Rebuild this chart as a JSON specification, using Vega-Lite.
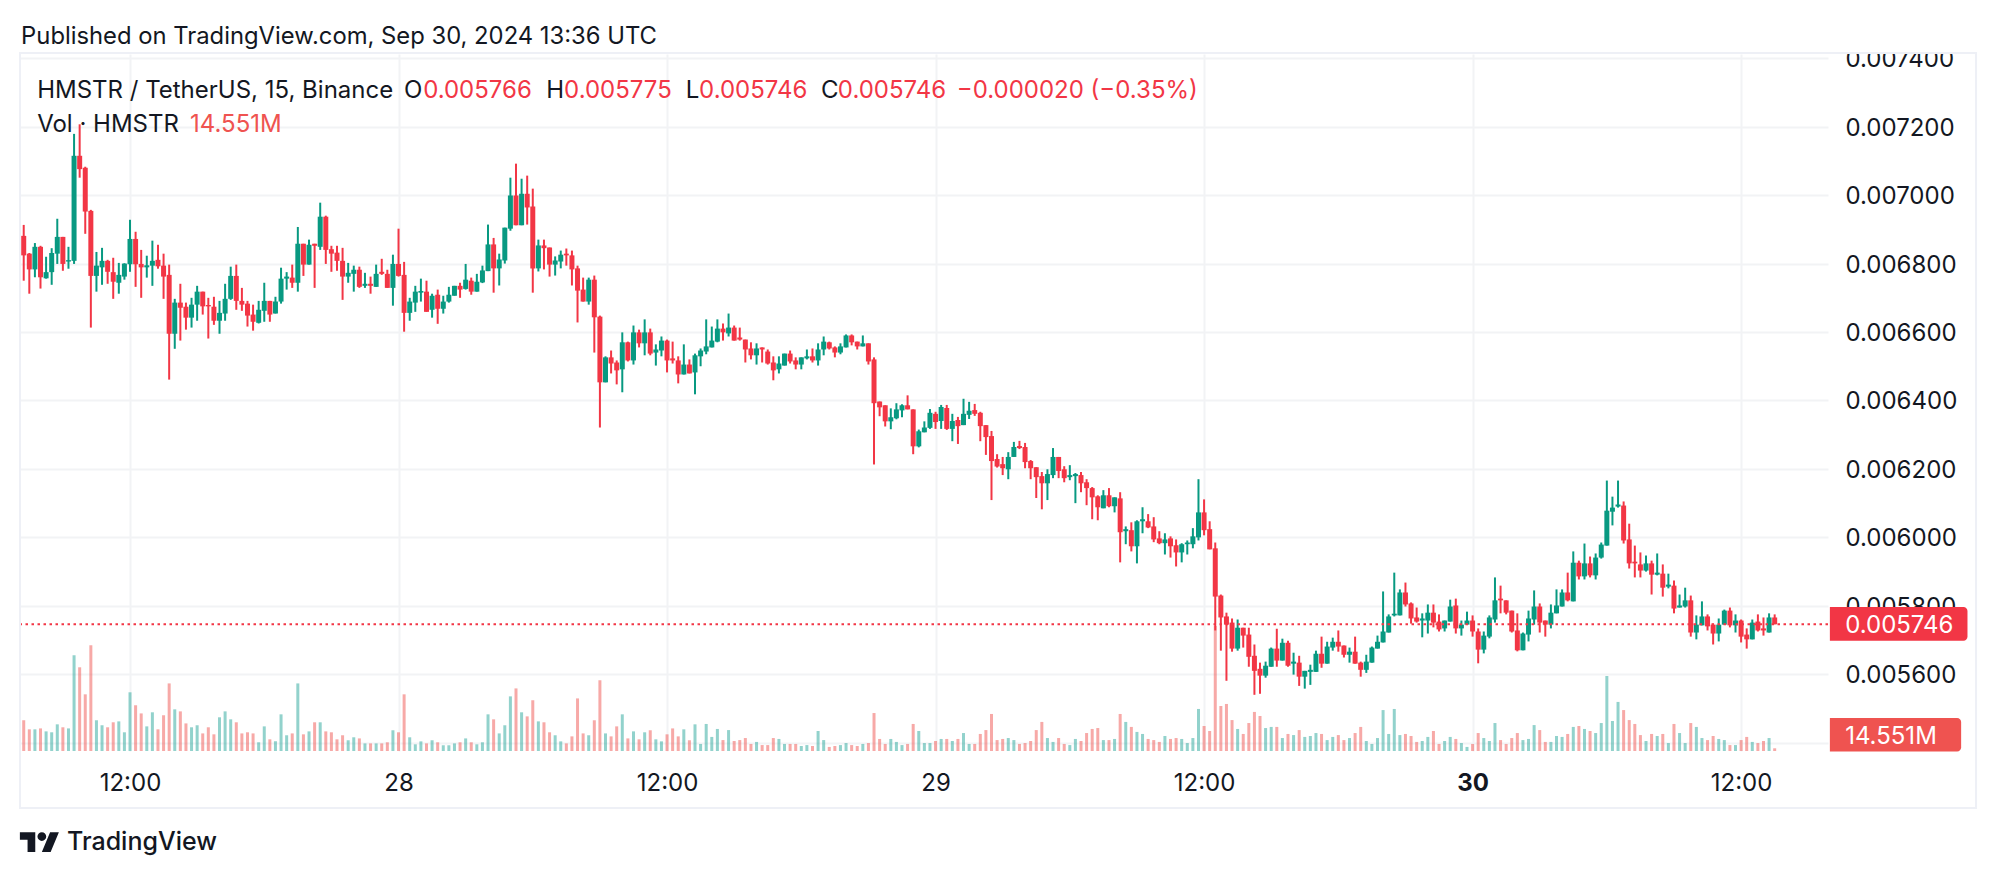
{
"$schema":"https://vega.github.io/schema/vega-lite/v6.json",
"width":1808,"height":697,
"autosize":{"type":"none"},
"padding":{"left":20,"top":54,"right":168,"bottom":127},
"background":"white",
"config":{"view":{"stroke":null},"text":{"font":"Inter"}},
"data":{"values":[
{"t":"2024-09-27T07:15Z","o":0.006881,"h":0.006913,"l":0.006750,"c":0.006824,"v":166},
{"t":"2024-09-27T07:30Z","o":0.006829,"h":0.006831,"l":0.006712,"c":0.006783,"v":117},
{"t":"2024-09-27T07:45Z","o":0.006783,"h":0.006860,"l":0.006760,"c":0.006849,"v":117},
{"t":"2024-09-27T08:00Z","o":0.006849,"h":0.006852,"l":0.006727,"c":0.006760,"v":122},
{"t":"2024-09-27T08:15Z","o":0.006757,"h":0.006820,"l":0.006756,"c":0.006775,"v":106},
{"t":"2024-09-27T08:30Z","o":0.006775,"h":0.006845,"l":0.006738,"c":0.006831,"v":101},
{"t":"2024-09-27T08:45Z","o":0.006829,"h":0.006931,"l":0.006799,"c":0.006878,"v":144},
{"t":"2024-09-27T09:00Z","o":0.006878,"h":0.006878,"l":0.006779,"c":0.006799,"v":128},
{"t":"2024-09-27T09:15Z","o":0.006806,"h":0.006849,"l":0.006785,"c":0.006810,"v":122},
{"t":"2024-09-27T09:30Z","o":0.006808,"h":0.007179,"l":0.006799,"c":0.007115,"v":517},
{"t":"2024-09-27T09:45Z","o":0.007115,"h":0.007207,"l":0.007051,"c":0.007076,"v":452},
{"t":"2024-09-27T10:00Z","o":0.007080,"h":0.007083,"l":0.006887,"c":0.006952,"v":306},
{"t":"2024-09-27T10:15Z","o":0.006954,"h":0.006957,"l":0.006613,"c":0.006764,"v":571},
{"t":"2024-09-27T10:30Z","o":0.006764,"h":0.006834,"l":0.006718,"c":0.006794,"v":166},
{"t":"2024-09-27T10:45Z","o":0.006789,"h":0.006846,"l":0.006738,"c":0.006808,"v":139},
{"t":"2024-09-27T11:00Z","o":0.006808,"h":0.006811,"l":0.006741,"c":0.006776,"v":128},
{"t":"2024-09-27T11:15Z","o":0.006775,"h":0.006817,"l":0.006697,"c":0.006747,"v":155},
{"t":"2024-09-27T11:30Z","o":0.006744,"h":0.006802,"l":0.006712,"c":0.006767,"v":160},
{"t":"2024-09-27T11:45Z","o":0.006762,"h":0.006801,"l":0.006753,"c":0.006800,"v":101},
{"t":"2024-09-27T12:00Z","o":0.006798,"h":0.006928,"l":0.006776,"c":0.006872,"v":317},
{"t":"2024-09-27T12:15Z","o":0.006872,"h":0.006893,"l":0.006732,"c":0.006798,"v":247},
{"t":"2024-09-27T12:30Z","o":0.006799,"h":0.006840,"l":0.006700,"c":0.006789,"v":203},
{"t":"2024-09-27T12:45Z","o":0.006789,"h":0.006823,"l":0.006759,"c":0.006795,"v":133},
{"t":"2024-09-27T13:00Z","o":0.006794,"h":0.006867,"l":0.006735,"c":0.006808,"v":209},
{"t":"2024-09-27T13:15Z","o":0.006811,"h":0.006855,"l":0.006785,"c":0.006792,"v":117},
{"t":"2024-09-27T13:30Z","o":0.006794,"h":0.006829,"l":0.006697,"c":0.006762,"v":193},
{"t":"2024-09-27T13:45Z","o":0.006767,"h":0.006797,"l":0.006461,"c":0.006595,"v":365},
{"t":"2024-09-27T14:00Z","o":0.006595,"h":0.006697,"l":0.006551,"c":0.006686,"v":225},
{"t":"2024-09-27T14:15Z","o":0.006686,"h":0.006741,"l":0.006575,"c":0.006671,"v":214},
{"t":"2024-09-27T14:30Z","o":0.006674,"h":0.006686,"l":0.006607,"c":0.006642,"v":149},
{"t":"2024-09-27T14:45Z","o":0.006642,"h":0.006700,"l":0.006613,"c":0.006680,"v":128},
{"t":"2024-09-27T15:00Z","o":0.006680,"h":0.006735,"l":0.006633,"c":0.006718,"v":139},
{"t":"2024-09-27T15:15Z","o":0.006718,"h":0.006718,"l":0.006651,"c":0.006675,"v":95},
{"t":"2024-09-27T15:30Z","o":0.006679,"h":0.006700,"l":0.006581,"c":0.006675,"v":128},
{"t":"2024-09-27T15:45Z","o":0.006674,"h":0.006703,"l":0.006621,"c":0.006633,"v":90},
{"t":"2024-09-27T16:00Z","o":0.006633,"h":0.006691,"l":0.006595,"c":0.006656,"v":182},
{"t":"2024-09-27T16:15Z","o":0.006654,"h":0.006741,"l":0.006633,"c":0.006697,"v":214},
{"t":"2024-09-27T16:30Z","o":0.006697,"h":0.006791,"l":0.006694,"c":0.006764,"v":171},
{"t":"2024-09-27T16:45Z","o":0.006764,"h":0.006797,"l":0.006665,"c":0.006691,"v":155},
{"t":"2024-09-27T17:00Z","o":0.006691,"h":0.006729,"l":0.006662,"c":0.006680,"v":95},
{"t":"2024-09-27T17:15Z","o":0.006683,"h":0.006691,"l":0.006616,"c":0.006648,"v":101},
{"t":"2024-09-27T17:30Z","o":0.006651,"h":0.006680,"l":0.006604,"c":0.006630,"v":95},
{"t":"2024-09-27T17:45Z","o":0.006627,"h":0.006691,"l":0.006625,"c":0.006665,"v":47},
{"t":"2024-09-27T18:00Z","o":0.006662,"h":0.006744,"l":0.006630,"c":0.006691,"v":133},
{"t":"2024-09-27T18:15Z","o":0.006691,"h":0.006691,"l":0.006630,"c":0.006651,"v":63},
{"t":"2024-09-27T18:30Z","o":0.006654,"h":0.006703,"l":0.006654,"c":0.006689,"v":52},
{"t":"2024-09-27T18:45Z","o":0.006689,"h":0.006788,"l":0.006683,"c":0.006756,"v":198},
{"t":"2024-09-27T19:00Z","o":0.006756,"h":0.006775,"l":0.006724,"c":0.006762,"v":85},
{"t":"2024-09-27T19:15Z","o":0.006759,"h":0.006797,"l":0.006729,"c":0.006744,"v":95},
{"t":"2024-09-27T19:30Z","o":0.006744,"h":0.006907,"l":0.006718,"c":0.006858,"v":365},
{"t":"2024-09-27T19:45Z","o":0.006858,"h":0.006858,"l":0.006764,"c":0.006797,"v":90},
{"t":"2024-09-27T20:00Z","o":0.006797,"h":0.006870,"l":0.006797,"c":0.006855,"v":106},
{"t":"2024-09-27T20:15Z","o":0.006858,"h":0.006858,"l":0.006729,"c":0.006852,"v":155},
{"t":"2024-09-27T20:30Z","o":0.006849,"h":0.006978,"l":0.006840,"c":0.006937,"v":155},
{"t":"2024-09-27T20:45Z","o":0.006937,"h":0.006940,"l":0.006799,"c":0.006840,"v":106},
{"t":"2024-09-27T21:00Z","o":0.006842,"h":0.006852,"l":0.006776,"c":0.006829,"v":101},
{"t":"2024-09-27T21:15Z","o":0.006832,"h":0.006852,"l":0.006779,"c":0.006808,"v":63},
{"t":"2024-09-27T21:30Z","o":0.006808,"h":0.006846,"l":0.006694,"c":0.006762,"v":85},
{"t":"2024-09-27T21:45Z","o":0.006762,"h":0.006802,"l":0.006744,"c":0.006773,"v":58},
{"t":"2024-09-27T22:00Z","o":0.006770,"h":0.006794,"l":0.006718,"c":0.006782,"v":74},
{"t":"2024-09-27T22:15Z","o":0.006782,"h":0.006791,"l":0.006729,"c":0.006732,"v":68},
{"t":"2024-09-27T22:30Z","o":0.006735,"h":0.006773,"l":0.006729,"c":0.006741,"v":41},
{"t":"2024-09-27T22:45Z","o":0.006741,"h":0.006762,"l":0.006712,"c":0.006735,"v":41},
{"t":"2024-09-27T23:00Z","o":0.006732,"h":0.006797,"l":0.006732,"c":0.006770,"v":41},
{"t":"2024-09-27T23:15Z","o":0.006776,"h":0.006814,"l":0.006767,"c":0.006770,"v":41},
{"t":"2024-09-27T23:30Z","o":0.006770,"h":0.006782,"l":0.006729,"c":0.006729,"v":47},
{"t":"2024-09-27T23:45Z","o":0.006729,"h":0.006826,"l":0.006677,"c":0.006799,"v":112},
{"t":"2024-09-28T00:00Z","o":0.006799,"h":0.006902,"l":0.006762,"c":0.006764,"v":101},
{"t":"2024-09-28T00:15Z","o":0.006767,"h":0.006805,"l":0.006601,"c":0.006656,"v":306},
{"t":"2024-09-28T00:30Z","o":0.006656,"h":0.006700,"l":0.006633,"c":0.006689,"v":74},
{"t":"2024-09-28T00:45Z","o":0.006686,"h":0.006735,"l":0.006659,"c":0.006718,"v":36},
{"t":"2024-09-28T01:00Z","o":0.006715,"h":0.006756,"l":0.006689,"c":0.006720,"v":52},
{"t":"2024-09-28T01:15Z","o":0.006718,"h":0.006750,"l":0.006659,"c":0.006659,"v":41},
{"t":"2024-09-28T01:30Z","o":0.006665,"h":0.006712,"l":0.006642,"c":0.006706,"v":58},
{"t":"2024-09-28T01:45Z","o":0.006709,"h":0.006724,"l":0.006624,"c":0.006668,"v":47},
{"t":"2024-09-28T02:00Z","o":0.006668,"h":0.006706,"l":0.006654,"c":0.006689,"v":31},
{"t":"2024-09-28T02:15Z","o":0.006689,"h":0.006732,"l":0.006686,"c":0.006709,"v":31},
{"t":"2024-09-28T02:30Z","o":0.006706,"h":0.006735,"l":0.006706,"c":0.006735,"v":41},
{"t":"2024-09-28T02:45Z","o":0.006735,"h":0.006744,"l":0.006700,"c":0.006724,"v":47},
{"t":"2024-09-28T03:00Z","o":0.006726,"h":0.006799,"l":0.006724,"c":0.006753,"v":68},
{"t":"2024-09-28T03:15Z","o":0.006750,"h":0.006759,"l":0.006709,"c":0.006718,"v":47},
{"t":"2024-09-28T03:30Z","o":0.006718,"h":0.006770,"l":0.006718,"c":0.006747,"v":36},
{"t":"2024-09-28T03:45Z","o":0.006745,"h":0.006794,"l":0.006743,"c":0.006780,"v":47},
{"t":"2024-09-28T04:00Z","o":0.006778,"h":0.006914,"l":0.006778,"c":0.006856,"v":198},
{"t":"2024-09-28T04:15Z","o":0.006856,"h":0.006875,"l":0.006715,"c":0.006786,"v":171},
{"t":"2024-09-28T04:30Z","o":0.006786,"h":0.006829,"l":0.006736,"c":0.006812,"v":95},
{"t":"2024-09-28T04:45Z","o":0.006809,"h":0.006905,"l":0.006800,"c":0.006905,"v":139},
{"t":"2024-09-28T05:00Z","o":0.006902,"h":0.007051,"l":0.006896,"c":0.006999,"v":295},
{"t":"2024-09-28T05:15Z","o":0.006999,"h":0.007092,"l":0.006912,"c":0.006912,"v":338},
{"t":"2024-09-28T05:30Z","o":0.006912,"h":0.007048,"l":0.006912,"c":0.007004,"v":209},
{"t":"2024-09-28T05:45Z","o":0.007004,"h":0.007057,"l":0.006914,"c":0.006964,"v":187},
{"t":"2024-09-28T06:00Z","o":0.006967,"h":0.007019,"l":0.006715,"c":0.006786,"v":274},
{"t":"2024-09-28T06:15Z","o":0.006786,"h":0.006870,"l":0.006777,"c":0.006853,"v":160},
{"t":"2024-09-28T06:30Z","o":0.006853,"h":0.006870,"l":0.006783,"c":0.006845,"v":155},
{"t":"2024-09-28T06:45Z","o":0.006847,"h":0.006847,"l":0.006762,"c":0.006797,"v":101},
{"t":"2024-09-28T07:00Z","o":0.006797,"h":0.006821,"l":0.006765,"c":0.006809,"v":85},
{"t":"2024-09-28T07:15Z","o":0.006806,"h":0.006838,"l":0.006786,"c":0.006826,"v":52},
{"t":"2024-09-28T07:30Z","o":0.006829,"h":0.006844,"l":0.006794,"c":0.006824,"v":41},
{"t":"2024-09-28T07:45Z","o":0.006824,"h":0.006838,"l":0.006736,"c":0.006783,"v":79},
{"t":"2024-09-28T08:00Z","o":0.006786,"h":0.006794,"l":0.006628,"c":0.006721,"v":284},
{"t":"2024-09-28T08:15Z","o":0.006724,"h":0.006759,"l":0.006689,"c":0.006689,"v":95},
{"t":"2024-09-28T08:30Z","o":0.006689,"h":0.006759,"l":0.006680,"c":0.006753,"v":85},
{"t":"2024-09-28T08:45Z","o":0.006753,"h":0.006765,"l":0.006540,"c":0.006643,"v":166},
{"t":"2024-09-28T09:00Z","o":0.006645,"h":0.006648,"l":0.006321,"c":0.006453,"v":382},
{"t":"2024-09-28T09:15Z","o":0.006453,"h":0.006529,"l":0.006453,"c":0.006526,"v":95},
{"t":"2024-09-28T09:30Z","o":0.006526,"h":0.006546,"l":0.006479,"c":0.006508,"v":79},
{"t":"2024-09-28T09:45Z","o":0.006511,"h":0.006517,"l":0.006447,"c":0.006488,"v":133},
{"t":"2024-09-28T10:00Z","o":0.006491,"h":0.006599,"l":0.006424,"c":0.006570,"v":198},
{"t":"2024-09-28T10:15Z","o":0.006570,"h":0.006572,"l":0.006514,"c":0.006517,"v":68},
{"t":"2024-09-28T10:30Z","o":0.006517,"h":0.006619,"l":0.006505,"c":0.006599,"v":106},
{"t":"2024-09-28T10:45Z","o":0.006599,"h":0.006607,"l":0.006555,"c":0.006567,"v":63},
{"t":"2024-09-28T11:00Z","o":0.006567,"h":0.006637,"l":0.006532,"c":0.006599,"v":101},
{"t":"2024-09-28T11:15Z","o":0.006599,"h":0.006610,"l":0.006532,"c":0.006537,"v":112},
{"t":"2024-09-28T11:30Z","o":0.006540,"h":0.006564,"l":0.006502,"c":0.006549,"v":63},
{"t":"2024-09-28T11:45Z","o":0.006546,"h":0.006587,"l":0.006529,"c":0.006575,"v":52},
{"t":"2024-09-28T12:00Z","o":0.006575,"h":0.006578,"l":0.006482,"c":0.006517,"v":90},
{"t":"2024-09-28T12:15Z","o":0.006523,"h":0.006572,"l":0.006508,"c":0.006517,"v":122},
{"t":"2024-09-28T12:30Z","o":0.006517,"h":0.006529,"l":0.006450,"c":0.006476,"v":79},
{"t":"2024-09-28T12:45Z","o":0.006476,"h":0.006564,"l":0.006476,"c":0.006505,"v":117},
{"t":"2024-09-28T13:00Z","o":0.006505,"h":0.006520,"l":0.006479,"c":0.006479,"v":58},
{"t":"2024-09-28T13:15Z","o":0.006482,"h":0.006537,"l":0.006418,"c":0.006532,"v":144},
{"t":"2024-09-28T13:30Z","o":0.006529,"h":0.006552,"l":0.006500,"c":0.006546,"v":38},
{"t":"2024-09-28T13:45Z","o":0.006543,"h":0.006637,"l":0.006535,"c":0.006558,"v":146},
{"t":"2024-09-28T14:00Z","o":0.006555,"h":0.006616,"l":0.006555,"c":0.006575,"v":76},
{"t":"2024-09-28T14:15Z","o":0.006572,"h":0.006637,"l":0.006570,"c":0.006610,"v":119},
{"t":"2024-09-28T14:30Z","o":0.006610,"h":0.006625,"l":0.006575,"c":0.006599,"v":59},
{"t":"2024-09-28T14:45Z","o":0.006596,"h":0.006654,"l":0.006587,"c":0.006613,"v":113},
{"t":"2024-09-28T15:00Z","o":0.006613,"h":0.006619,"l":0.006575,"c":0.006575,"v":54},
{"t":"2024-09-28T15:15Z","o":0.006584,"h":0.006613,"l":0.006575,"c":0.006578,"v":59},
{"t":"2024-09-28T15:30Z","o":0.006578,"h":0.006578,"l":0.006511,"c":0.006549,"v":70},
{"t":"2024-09-28T15:45Z","o":0.006552,"h":0.006570,"l":0.006520,"c":0.006532,"v":38},
{"t":"2024-09-28T16:00Z","o":0.006532,"h":0.006567,"l":0.006505,"c":0.006552,"v":49},
{"t":"2024-09-28T16:15Z","o":0.006555,"h":0.006555,"l":0.006511,"c":0.006549,"v":32},
{"t":"2024-09-28T16:30Z","o":0.006543,"h":0.006549,"l":0.006505,"c":0.006508,"v":32},
{"t":"2024-09-28T16:45Z","o":0.006511,"h":0.006529,"l":0.006459,"c":0.006488,"v":70},
{"t":"2024-09-28T17:00Z","o":0.006491,"h":0.006529,"l":0.006479,"c":0.006508,"v":65},
{"t":"2024-09-28T17:15Z","o":0.006502,"h":0.006537,"l":0.006502,"c":0.006537,"v":38},
{"t":"2024-09-28T17:30Z","o":0.006537,"h":0.006546,"l":0.006508,"c":0.006514,"v":38},
{"t":"2024-09-28T17:45Z","o":0.006517,"h":0.006526,"l":0.006491,"c":0.006505,"v":38},
{"t":"2024-09-28T18:00Z","o":0.006505,"h":0.006526,"l":0.006491,"c":0.006526,"v":27},
{"t":"2024-09-28T18:15Z","o":0.006523,"h":0.006549,"l":0.006520,"c":0.006529,"v":32},
{"t":"2024-09-28T18:30Z","o":0.006529,"h":0.006552,"l":0.006511,"c":0.006517,"v":27},
{"t":"2024-09-28T18:45Z","o":0.006517,"h":0.006567,"l":0.006502,"c":0.006549,"v":108},
{"t":"2024-09-28T19:00Z","o":0.006549,"h":0.006587,"l":0.006532,"c":0.006572,"v":59},
{"t":"2024-09-28T19:15Z","o":0.006570,"h":0.006572,"l":0.006549,"c":0.006552,"v":22},
{"t":"2024-09-28T19:30Z","o":0.006555,"h":0.006558,"l":0.006526,"c":0.006540,"v":27},
{"t":"2024-09-28T19:45Z","o":0.006540,"h":0.006567,"l":0.006535,"c":0.006558,"v":32},
{"t":"2024-09-28T20:00Z","o":0.006555,"h":0.006593,"l":0.006555,"c":0.006590,"v":43},
{"t":"2024-09-28T20:15Z","o":0.006590,"h":0.006593,"l":0.006561,"c":0.006570,"v":32},
{"t":"2024-09-28T20:30Z","o":0.006572,"h":0.006572,"l":0.006549,"c":0.006558,"v":27},
{"t":"2024-09-28T20:45Z","o":0.006558,"h":0.006590,"l":0.006558,"c":0.006567,"v":38},
{"t":"2024-09-28T21:00Z","o":0.006567,"h":0.006567,"l":0.006505,"c":0.006514,"v":43},
{"t":"2024-09-28T21:15Z","o":0.006520,"h":0.006526,"l":0.006213,"c":0.006392,"v":205},
{"t":"2024-09-28T21:30Z","o":0.006397,"h":0.006397,"l":0.006354,"c":0.006380,"v":65},
{"t":"2024-09-28T21:45Z","o":0.006386,"h":0.006386,"l":0.006324,"c":0.006339,"v":38},
{"t":"2024-09-28T22:00Z","o":0.006339,"h":0.006377,"l":0.006316,"c":0.006351,"v":65},
{"t":"2024-09-28T22:15Z","o":0.006348,"h":0.006392,"l":0.006345,"c":0.006374,"v":49},
{"t":"2024-09-28T22:30Z","o":0.006371,"h":0.006389,"l":0.006351,"c":0.006386,"v":32},
{"t":"2024-09-28T22:45Z","o":0.006386,"h":0.006415,"l":0.006374,"c":0.006374,"v":38},
{"t":"2024-09-28T23:00Z","o":0.006374,"h":0.006374,"l":0.006243,"c":0.006266,"v":146},
{"t":"2024-09-28T23:15Z","o":0.006266,"h":0.006315,"l":0.006263,"c":0.006310,"v":108},
{"t":"2024-09-28T23:30Z","o":0.006307,"h":0.006339,"l":0.006307,"c":0.006321,"v":43},
{"t":"2024-09-28T23:45Z","o":0.006320,"h":0.006375,"l":0.006317,"c":0.006364,"v":43},
{"t":"2024-09-29T00:00Z","o":0.006361,"h":0.006367,"l":0.006317,"c":0.006337,"v":54},
{"t":"2024-09-29T00:15Z","o":0.006340,"h":0.006387,"l":0.006317,"c":0.006381,"v":65},
{"t":"2024-09-29T00:30Z","o":0.006378,"h":0.006387,"l":0.006314,"c":0.006317,"v":65},
{"t":"2024-09-29T00:45Z","o":0.006317,"h":0.006361,"l":0.006281,"c":0.006340,"v":54},
{"t":"2024-09-29T01:00Z","o":0.006343,"h":0.006352,"l":0.006273,"c":0.006325,"v":65},
{"t":"2024-09-29T01:15Z","o":0.006328,"h":0.006405,"l":0.006328,"c":0.006361,"v":97},
{"t":"2024-09-29T01:30Z","o":0.006358,"h":0.006396,"l":0.006346,"c":0.006370,"v":38},
{"t":"2024-09-29T01:45Z","o":0.006372,"h":0.006390,"l":0.006355,"c":0.006361,"v":38},
{"t":"2024-09-29T02:00Z","o":0.006364,"h":0.006367,"l":0.006281,"c":0.006325,"v":92},
{"t":"2024-09-29T02:15Z","o":0.006328,"h":0.006328,"l":0.006241,"c":0.006293,"v":113},
{"t":"2024-09-29T02:30Z","o":0.006296,"h":0.006311,"l":0.006109,"c":0.006223,"v":200},
{"t":"2024-09-29T02:45Z","o":0.006229,"h":0.006243,"l":0.006204,"c":0.006207,"v":59},
{"t":"2024-09-29T03:00Z","o":0.006214,"h":0.006235,"l":0.006182,"c":0.006202,"v":65},
{"t":"2024-09-29T03:15Z","o":0.006199,"h":0.006249,"l":0.006170,"c":0.006235,"v":70},
{"t":"2024-09-29T03:30Z","o":0.006235,"h":0.006279,"l":0.006235,"c":0.006264,"v":59},
{"t":"2024-09-29T03:45Z","o":0.006267,"h":0.006282,"l":0.006258,"c":0.006261,"v":38},
{"t":"2024-09-29T04:00Z","o":0.006264,"h":0.006276,"l":0.006202,"c":0.006220,"v":43},
{"t":"2024-09-29T04:15Z","o":0.006223,"h":0.006226,"l":0.006170,"c":0.006202,"v":54},
{"t":"2024-09-29T04:30Z","o":0.006205,"h":0.006205,"l":0.006115,"c":0.006176,"v":113},
{"t":"2024-09-29T04:45Z","o":0.006179,"h":0.006191,"l":0.006082,"c":0.006158,"v":157},
{"t":"2024-09-29T05:00Z","o":0.006158,"h":0.006199,"l":0.006109,"c":0.006185,"v":70},
{"t":"2024-09-29T05:15Z","o":0.006182,"h":0.006261,"l":0.006173,"c":0.006235,"v":49},
{"t":"2024-09-29T05:30Z","o":0.006235,"h":0.006235,"l":0.006173,"c":0.006194,"v":70},
{"t":"2024-09-29T05:45Z","o":0.006199,"h":0.006208,"l":0.006161,"c":0.006173,"v":38},
{"t":"2024-09-29T06:00Z","o":0.006176,"h":0.006211,"l":0.006167,"c":0.006182,"v":32},
{"t":"2024-09-29T06:15Z","o":0.006179,"h":0.006188,"l":0.006100,"c":0.006185,"v":65},
{"t":"2024-09-29T06:30Z","o":0.006182,"h":0.006191,"l":0.006132,"c":0.006158,"v":54},
{"t":"2024-09-29T06:45Z","o":0.006161,"h":0.006170,"l":0.006094,"c":0.006144,"v":97},
{"t":"2024-09-29T07:00Z","o":0.006144,"h":0.006147,"l":0.006053,"c":0.006117,"v":119},
{"t":"2024-09-29T07:15Z","o":0.006120,"h":0.006123,"l":0.006050,"c":0.006088,"v":124},
{"t":"2024-09-29T07:30Z","o":0.006085,"h":0.006138,"l":0.006085,"c":0.006123,"v":59},
{"t":"2024-09-29T07:45Z","o":0.006123,"h":0.006144,"l":0.006088,"c":0.006091,"v":59},
{"t":"2024-09-29T08:00Z","o":0.006091,"h":0.006117,"l":0.006073,"c":0.006117,"v":65},
{"t":"2024-09-29T08:15Z","o":0.006114,"h":0.006132,"l":0.005927,"c":0.006015,"v":200},
{"t":"2024-09-29T08:30Z","o":0.006018,"h":0.006032,"l":0.005980,"c":0.006024,"v":157},
{"t":"2024-09-29T08:45Z","o":0.006021,"h":0.006044,"l":0.005959,"c":0.005974,"v":130},
{"t":"2024-09-29T09:00Z","o":0.005974,"h":0.006050,"l":0.005924,"c":0.006047,"v":103},
{"t":"2024-09-29T09:15Z","o":0.006047,"h":0.006088,"l":0.006012,"c":0.006053,"v":92},
{"t":"2024-09-29T09:30Z","o":0.006047,"h":0.006068,"l":0.006027,"c":0.006029,"v":65},
{"t":"2024-09-29T09:45Z","o":0.006032,"h":0.006059,"l":0.005986,"c":0.005994,"v":59},
{"t":"2024-09-29T10:00Z","o":0.005997,"h":0.006018,"l":0.005980,"c":0.005983,"v":49},
{"t":"2024-09-29T10:15Z","o":0.005983,"h":0.006012,"l":0.005950,"c":0.005994,"v":81},
{"t":"2024-09-29T10:30Z","o":0.005997,"h":0.006003,"l":0.005941,"c":0.005974,"v":65},
{"t":"2024-09-29T10:45Z","o":0.005977,"h":0.005994,"l":0.005915,"c":0.005956,"v":70},
{"t":"2024-09-29T11:00Z","o":0.005956,"h":0.005983,"l":0.005927,"c":0.005980,"v":65},
{"t":"2024-09-29T11:15Z","o":0.005980,"h":0.005991,"l":0.005950,"c":0.005985,"v":43},
{"t":"2024-09-29T11:30Z","o":0.005980,"h":0.006027,"l":0.005968,"c":0.006003,"v":70},
{"t":"2024-09-29T11:45Z","o":0.006000,"h":0.006170,"l":0.005991,"c":0.006073,"v":227},
{"t":"2024-09-29T12:00Z","o":0.006073,"h":0.006111,"l":0.006006,"c":0.006021,"v":135},
{"t":"2024-09-29T12:15Z","o":0.006024,"h":0.006047,"l":0.005965,"c":0.005965,"v":108},
{"t":"2024-09-29T12:30Z","o":0.005968,"h":0.005985,"l":0.005728,"c":0.005827,"v":675},
{"t":"2024-09-29T12:45Z","o":0.005830,"h":0.005833,"l":0.005669,"c":0.005766,"v":243},
{"t":"2024-09-29T13:00Z","o":0.005769,"h":0.005780,"l":0.005581,"c":0.005745,"v":254},
{"t":"2024-09-29T13:15Z","o":0.005751,"h":0.005763,"l":0.005666,"c":0.005675,"v":167},
{"t":"2024-09-29T13:30Z","o":0.005675,"h":0.005760,"l":0.005669,"c":0.005736,"v":119},
{"t":"2024-09-29T13:45Z","o":0.005736,"h":0.005736,"l":0.005678,"c":0.005713,"v":92},
{"t":"2024-09-29T14:00Z","o":0.005716,"h":0.005736,"l":0.005622,"c":0.005651,"v":151},
{"t":"2024-09-29T14:15Z","o":0.005654,"h":0.005687,"l":0.005540,"c":0.005610,"v":211},
{"t":"2024-09-29T14:30Z","o":0.005616,"h":0.005634,"l":0.005543,"c":0.005596,"v":189},
{"t":"2024-09-29T14:45Z","o":0.005596,"h":0.005637,"l":0.005590,"c":0.005625,"v":124},
{"t":"2024-09-29T15:00Z","o":0.005622,"h":0.005678,"l":0.005622,"c":0.005675,"v":130},
{"t":"2024-09-29T15:15Z","o":0.005675,"h":0.005733,"l":0.005622,"c":0.005640,"v":130},
{"t":"2024-09-29T15:30Z","o":0.005640,"h":0.005704,"l":0.005640,"c":0.005692,"v":70},
{"t":"2024-09-29T15:45Z","o":0.005692,"h":0.005698,"l":0.005622,"c":0.005625,"v":92},
{"t":"2024-09-29T16:00Z","o":0.005631,"h":0.005663,"l":0.005599,"c":0.005637,"v":86},
{"t":"2024-09-29T16:15Z","o":0.005634,"h":0.005654,"l":0.005566,"c":0.005593,"v":113},
{"t":"2024-09-29T16:30Z","o":0.005593,"h":0.005610,"l":0.005558,"c":0.005610,"v":76},
{"t":"2024-09-29T16:45Z","o":0.005607,"h":0.005628,"l":0.005569,"c":0.005613,"v":81},
{"t":"2024-09-29T17:00Z","o":0.005607,"h":0.005669,"l":0.005607,"c":0.005660,"v":97},
{"t":"2024-09-29T17:15Z","o":0.005660,"h":0.005710,"l":0.005619,"c":0.005631,"v":92},
{"t":"2024-09-29T17:30Z","o":0.005631,"h":0.005695,"l":0.005631,"c":0.005681,"v":59},
{"t":"2024-09-29T17:45Z","o":0.005678,"h":0.005707,"l":0.005669,"c":0.005695,"v":76},
{"t":"2024-09-29T18:00Z","o":0.005695,"h":0.005728,"l":0.005666,"c":0.005681,"v":86},
{"t":"2024-09-29T18:15Z","o":0.005684,"h":0.005684,"l":0.005649,"c":0.005657,"v":59},
{"t":"2024-09-29T18:30Z","o":0.005657,"h":0.005678,"l":0.005634,"c":0.005666,"v":70},
{"t":"2024-09-29T18:45Z","o":0.005666,"h":0.005710,"l":0.005631,"c":0.005631,"v":97},
{"t":"2024-09-29T19:00Z","o":0.005634,"h":0.005637,"l":0.005593,"c":0.005613,"v":130},
{"t":"2024-09-29T19:15Z","o":0.005613,"h":0.005657,"l":0.005604,"c":0.005637,"v":54},
{"t":"2024-09-29T19:30Z","o":0.005634,"h":0.005681,"l":0.005634,"c":0.005678,"v":38},
{"t":"2024-09-29T19:45Z","o":0.005675,"h":0.005713,"l":0.005675,"c":0.005695,"v":70},
{"t":"2024-09-29T20:00Z","o":0.005693,"h":0.005842,"l":0.005693,"c":0.005725,"v":221},
{"t":"2024-09-29T20:15Z","o":0.005722,"h":0.005775,"l":0.005722,"c":0.005769,"v":92},
{"t":"2024-09-29T20:30Z","o":0.005772,"h":0.005897,"l":0.005769,"c":0.005777,"v":227},
{"t":"2024-09-29T20:45Z","o":0.005772,"h":0.005848,"l":0.005772,"c":0.005839,"v":86},
{"t":"2024-09-29T21:00Z","o":0.005839,"h":0.005868,"l":0.005798,"c":0.005804,"v":92},
{"t":"2024-09-29T21:15Z","o":0.005807,"h":0.005810,"l":0.005748,"c":0.005763,"v":81},
{"t":"2024-09-29T21:30Z","o":0.005766,"h":0.005795,"l":0.005751,"c":0.005754,"v":49},
{"t":"2024-09-29T21:45Z","o":0.005757,"h":0.005778,"l":0.005708,"c":0.005763,"v":54},
{"t":"2024-09-29T22:00Z","o":0.005757,"h":0.005804,"l":0.005719,"c":0.005780,"v":76},
{"t":"2024-09-29T22:15Z","o":0.005780,"h":0.005804,"l":0.005737,"c":0.005751,"v":108},
{"t":"2024-09-29T22:30Z","o":0.005754,"h":0.005775,"l":0.005725,"c":0.005731,"v":38},
{"t":"2024-09-29T22:45Z","o":0.005734,"h":0.005757,"l":0.005725,"c":0.005757,"v":54},
{"t":"2024-09-29T23:00Z","o":0.005754,"h":0.005818,"l":0.005754,"c":0.005798,"v":76},
{"t":"2024-09-29T23:15Z","o":0.005801,"h":0.005821,"l":0.005719,"c":0.005734,"v":65},
{"t":"2024-09-29T23:30Z","o":0.005734,"h":0.005757,"l":0.005713,"c":0.005745,"v":43},
{"t":"2024-09-29T23:45Z","o":0.005745,"h":0.005783,"l":0.005745,"c":0.005757,"v":22},
{"t":"2024-09-30T00:00Z","o":0.005757,"h":0.005772,"l":0.005710,"c":0.005725,"v":38},
{"t":"2024-09-30T00:15Z","o":0.005725,"h":0.005734,"l":0.005632,"c":0.005672,"v":97},
{"t":"2024-09-30T00:30Z","o":0.005672,"h":0.005725,"l":0.005661,"c":0.005713,"v":70},
{"t":"2024-09-30T00:45Z","o":0.005710,"h":0.005772,"l":0.005705,"c":0.005766,"v":54},
{"t":"2024-09-30T01:00Z","o":0.005760,"h":0.005883,"l":0.005751,"c":0.005816,"v":151},
{"t":"2024-09-30T01:15Z","o":0.005821,"h":0.005859,"l":0.005778,"c":0.005816,"v":59},
{"t":"2024-09-30T01:30Z","o":0.005816,"h":0.005816,"l":0.005775,"c":0.005780,"v":38},
{"t":"2024-09-30T01:45Z","o":0.005786,"h":0.005786,"l":0.005722,"c":0.005725,"v":70},
{"t":"2024-09-30T02:00Z","o":0.005728,"h":0.005778,"l":0.005667,"c":0.005670,"v":97},
{"t":"2024-09-30T02:15Z","o":0.005670,"h":0.005722,"l":0.005670,"c":0.005719,"v":59},
{"t":"2024-09-30T02:30Z","o":0.005716,"h":0.005786,"l":0.005696,"c":0.005763,"v":65},
{"t":"2024-09-30T02:45Z","o":0.005760,"h":0.005845,"l":0.005745,"c":0.005798,"v":140},
{"t":"2024-09-30T03:00Z","o":0.005798,"h":0.005807,"l":0.005722,"c":0.005751,"v":113},
{"t":"2024-09-30T03:15Z","o":0.005757,"h":0.005757,"l":0.005710,"c":0.005745,"v":49},
{"t":"2024-09-30T03:30Z","o":0.005745,"h":0.005804,"l":0.005734,"c":0.005780,"v":49},
{"t":"2024-09-30T03:45Z","o":0.005778,"h":0.005848,"l":0.005778,"c":0.005801,"v":81},
{"t":"2024-09-30T04:00Z","o":0.005798,"h":0.005848,"l":0.005798,"c":0.005839,"v":76},
{"t":"2024-09-30T04:15Z","o":0.005839,"h":0.005897,"l":0.005813,"c":0.005816,"v":92},
{"t":"2024-09-30T04:30Z","o":0.005813,"h":0.005959,"l":0.005813,"c":0.005926,"v":130},
{"t":"2024-09-30T04:45Z","o":0.005926,"h":0.005932,"l":0.005877,"c":0.005886,"v":135},
{"t":"2024-09-30T05:00Z","o":0.005886,"h":0.005982,"l":0.005877,"c":0.005924,"v":119},
{"t":"2024-09-30T05:15Z","o":0.005924,"h":0.005944,"l":0.005883,"c":0.005889,"v":108},
{"t":"2024-09-30T05:30Z","o":0.005889,"h":0.005953,"l":0.005877,"c":0.005941,"v":97},
{"t":"2024-09-30T05:45Z","o":0.005941,"h":0.005985,"l":0.005938,"c":0.005979,"v":151},
{"t":"2024-09-30T06:00Z","o":0.005976,"h":0.006166,"l":0.005976,"c":0.006078,"v":405},
{"t":"2024-09-30T06:15Z","o":0.006075,"h":0.006119,"l":0.006035,"c":0.006087,"v":162},
{"t":"2024-09-30T06:30Z","o":0.006090,"h":0.006166,"l":0.006087,"c":0.006096,"v":265},
{"t":"2024-09-30T06:45Z","o":0.006093,"h":0.006105,"l":0.005982,"c":0.005991,"v":221},
{"t":"2024-09-30T07:00Z","o":0.005994,"h":0.006040,"l":0.005909,"c":0.005924,"v":167},
{"t":"2024-09-30T07:15Z","o":0.005929,"h":0.005976,"l":0.005883,"c":0.005924,"v":146},
{"t":"2024-09-30T07:30Z","o":0.005921,"h":0.005956,"l":0.005883,"c":0.005903,"v":86},
{"t":"2024-09-30T07:45Z","o":0.005903,"h":0.005947,"l":0.005900,"c":0.005924,"v":54},
{"t":"2024-09-30T08:00Z","o":0.005924,"h":0.005932,"l":0.005833,"c":0.005891,"v":92},
{"t":"2024-09-30T08:15Z","o":0.005891,"h":0.005953,"l":0.005889,"c":0.005897,"v":81},
{"t":"2024-09-30T08:30Z","o":0.005894,"h":0.005921,"l":0.005827,"c":0.005853,"v":92},
{"t":"2024-09-30T08:45Z","o":0.005856,"h":0.005894,"l":0.005851,"c":0.005862,"v":43},
{"t":"2024-09-30T09:00Z","o":0.005859,"h":0.005874,"l":0.005778,"c":0.005792,"v":146},
{"t":"2024-09-30T09:15Z","o":0.005795,"h":0.005833,"l":0.005795,"c":0.005801,"v":97},
{"t":"2024-09-30T09:30Z","o":0.005798,"h":0.005853,"l":0.005795,"c":0.005816,"v":43},
{"t":"2024-09-30T09:45Z","o":0.005816,"h":0.005830,"l":0.005710,"c":0.005722,"v":151},
{"t":"2024-09-30T10:00Z","o":0.005722,"h":0.005772,"l":0.005702,"c":0.005745,"v":130},
{"t":"2024-09-30T10:15Z","o":0.005743,"h":0.005813,"l":0.005743,"c":0.005769,"v":70},
{"t":"2024-09-30T10:30Z","o":0.005769,"h":0.005775,"l":0.005728,"c":0.005740,"v":59},
{"t":"2024-09-30T10:45Z","o":0.005745,"h":0.005748,"l":0.005687,"c":0.005719,"v":81},
{"t":"2024-09-30T11:00Z","o":0.005719,"h":0.005763,"l":0.005696,"c":0.005745,"v":65},
{"t":"2024-09-30T11:15Z","o":0.005745,"h":0.005789,"l":0.005745,"c":0.005786,"v":59},
{"t":"2024-09-30T11:30Z","o":0.005786,"h":0.005795,"l":0.005737,"c":0.005743,"v":32},
{"t":"2024-09-30T11:45Z","o":0.005743,"h":0.005775,"l":0.005722,"c":0.005757,"v":32},
{"t":"2024-09-30T12:00Z","o":0.005757,"h":0.005760,"l":0.005693,"c":0.005710,"v":59},
{"t":"2024-09-30T12:15Z","o":0.005716,"h":0.005734,"l":0.005675,"c":0.005702,"v":76},
{"t":"2024-09-30T12:30Z","o":0.005702,"h":0.005760,"l":0.005702,"c":0.005751,"v":49},
{"t":"2024-09-30T12:45Z","o":0.005754,"h":0.005775,"l":0.005725,"c":0.005728,"v":43},
{"t":"2024-09-30T13:00Z","o":0.005734,"h":0.005766,"l":0.005713,"c":0.005728,"v":54},
{"t":"2024-09-30T13:15Z","o":0.005722,"h":0.005778,"l":0.005722,"c":0.005766,"v":70},
{"t":"2024-09-30T13:30Z","o":0.005766,"h":0.005775,"l":0.005746,"c":0.005746,"v":14.551}
]},
"layer":[
{"mark":{"type":"bar","size":3,"opacity":0.5},
 "encoding":{
  "x":{"field":"t","type":"temporal","title":null,
   "scale":{"type":"utc","padding":0,"domain":["2024-09-27T07:05:02Z","2024-09-30T15:53:00Z"]},
   "axis":{"values":[{"year":2024,"month":9,"date":27,"hours":12,"utc":true},{"year":2024,"month":9,"date":28,"hours":0,"utc":true},{"year":2024,"month":9,"date":28,"hours":12,"utc":true},{"year":2024,"month":9,"date":29,"hours":0,"utc":true},{"year":2024,"month":9,"date":29,"hours":12,"utc":true},{"year":2024,"month":9,"date":30,"hours":0,"utc":true},{"year":2024,"month":9,"date":30,"hours":12,"utc":true}],
    "grid":true,"gridColor":"#f2f3f5","gridWidth":2,"domain":false,"ticks":false,"labelFont":"Inter","labelFontSize":24,"labelColor":"#131722","labelPadding":20,"labelFlush":false,"labelOverlap":false,
    "labelExpr":"utchours(datum.value)==12 ? '12:00' : ''+utcdate(datum.value)",
    "labelFontWeight":{"expr":"utcdate(datum.value)==30 && utchours(datum.value)==0 ? 700 : 400"}}},
  "y":{"field":"v","type":"quantitative","scale":{"domain":[0,3764],"nice":false},"axis":null},
  "color":{"condition":{"test":"datum.o < datum.c","value":"#26a69a"},"value":"#ef5350"}}},
{"layer":[
 {"mark":{"type":"rule","strokeWidth":2},
  "encoding":{"x":{"field":"t","type":"temporal"},
   "y":{"field":"l","type":"quantitative","title":null,
    "scale":{"domain":[0.0053758,0.0074124],"nice":false,"zero":false},
    "axis":{"orient":"right","values":[0.0054,0.0056,0.0058,0.006,0.0062,0.0064,0.0066,0.0068,0.007,0.0072,0.0074],"format":".6f","labelExpr":"datum.value < 0.0055 ? '' : datum.label","grid":true,"gridColor":"#f2f3f5","gridWidth":2,"domain":false,"ticks":false,"labelFont":"Inter","labelFontSize":24,"labelColor":"#131722","labelPadding":17,"labelOffset":1.5,"labelFlush":false,"labelOverlap":false}},
   "y2":{"field":"h"},
   "color":{"condition":{"test":"datum.o < datum.c","value":"#089981"},"value":"#F23645"}}},
 {"mark":{"type":"bar","size":5},
  "encoding":{"x":{"field":"t","type":"temporal"},
   "y":{"field":"o","type":"quantitative"},
   "y2":{"field":"c"},
   "color":{"condition":{"test":"datum.o < datum.c","value":"#089981"},"value":"#F23645"}}},
 {"data":{"values":[{}]},
  "layer":[
   {"mark":{"type":"rule","strokeDash":[2.5,3.5],"strokeWidth":2,"color":"#F23645"},"encoding":{"y":{"datum":0.005746}}},
   {"mark":{"type":"rect","fill":"white"},"encoding":{"x":{"datum":{"year":2024,"month":9,"date":30,"hours":15,"minutes":58,"utc":true},"type":"temporal"},"x2":{"datum":{"year":2024,"month":9,"date":30,"hours":22,"minutes":30,"utc":true}},"y":{"datum":0.0074476},"y2":{"datum":0.0074154}}},
   {"mark":{"type":"rect","fill":null,"stroke":"#eef0f6","strokeWidth":2},"encoding":{"x":{"datum":{"year":2024,"month":9,"date":27,"hours":7,"minutes":5,"seconds":2,"utc":true},"type":"temporal"},"x2":{"datum":{"year":2024,"month":9,"date":30,"hours":22,"minutes":30,"utc":true}},"y":{"datum":0.0074154},"y2":{"datum":0.0052092}}},
   {"mark":{"type":"rect","fill":"#F23645","cornerRadiusTopRight":4,"cornerRadiusBottomRight":4},"encoding":{"x":{"datum":{"year":2024,"month":9,"date":30,"hours":15,"minutes":58,"utc":true},"type":"temporal"},"x2":{"datum":{"year":2024,"month":9,"date":30,"hours":22,"minutes":7,"utc":true}},"y":{"datum":0.0057965},"y2":{"datum":0.005698}}},
   {"mark":{"type":"rect","fill":"#ef5350","cornerRadiusTopRight":4,"cornerRadiusBottomRight":4},"encoding":{"x":{"datum":{"year":2024,"month":9,"date":30,"hours":15,"minutes":58,"utc":true},"type":"temporal"},"x2":{"datum":{"year":2024,"month":9,"date":30,"hours":21,"minutes":50,"utc":true}},"y":{"datum":0.005472},"y2":{"datum":0.005374}}},
   {"mark":{"type":"text","text":"0.005746","fontSize":24,"align":"left","baseline":"middle","color":"white"},"encoding":{"x":{"datum":{"year":2024,"month":9,"date":30,"hours":16,"minutes":39,"utc":true},"type":"temporal"},"y":{"datum":0.005742}}},
   {"mark":{"type":"text","text":"14.551M","fontSize":24,"align":"left","baseline":"middle","color":"white"},"encoding":{"x":{"datum":{"year":2024,"month":9,"date":30,"hours":16,"minutes":39,"utc":true},"type":"temporal"},"y":{"datum":0.0054181}}},
   {"mark":{"type":"text","text":"Published on TradingView.com, Sep 30, 2024 13:36 UTC","fontSize":23.8,"align":"left","baseline":"middle","color":"#131722"},"encoding":{"x":{"datum":{"year":2024,"month":9,"date":27,"hours":7,"minutes":8,"utc":true},"type":"temporal"},"y":{"datum":0.0074635}}},
   {"mark":{"type":"text","text":"HMSTR / TetherUS, 15, Binance","fontSize":24,"align":"left","baseline":"middle","color":"#131722"},"encoding":{"x":{"datum":{"year":2024,"month":9,"date":27,"hours":7,"minutes":51,"utc":true},"type":"temporal"},"y":{"datum":0.0073043}}},
   {"mark":{"type":"text","text":"O","fontSize":24,"align":"left","baseline":"middle","color":"#131722"},"encoding":{"x":{"datum":{"year":2024,"month":9,"date":28,"hours":0,"minutes":15,"utc":true},"type":"temporal"},"y":{"datum":0.0073043}}},
   {"mark":{"type":"text","text":"0.005766","fontSize":24,"align":"left","baseline":"middle","color":"#F23645"},"encoding":{"x":{"datum":{"year":2024,"month":9,"date":28,"hours":1,"minutes":6,"utc":true},"type":"temporal"},"y":{"datum":0.0073043}}},
   {"mark":{"type":"text","text":"H","fontSize":24,"align":"left","baseline":"middle","color":"#131722"},"encoding":{"x":{"datum":{"year":2024,"month":9,"date":28,"hours":6,"minutes":36,"utc":true},"type":"temporal"},"y":{"datum":0.0073043}}},
   {"mark":{"type":"text","text":"0.005775","fontSize":24,"align":"left","baseline":"middle","color":"#F23645"},"encoding":{"x":{"datum":{"year":2024,"month":9,"date":28,"hours":7,"minutes":24,"utc":true},"type":"temporal"},"y":{"datum":0.0073043}}},
   {"mark":{"type":"text","text":"L","fontSize":24,"align":"left","baseline":"middle","color":"#131722"},"encoding":{"x":{"datum":{"year":2024,"month":9,"date":28,"hours":12,"minutes":50,"utc":true},"type":"temporal"},"y":{"datum":0.0073043}}},
   {"mark":{"type":"text","text":"0.005746","fontSize":24,"align":"left","baseline":"middle","color":"#F23645"},"encoding":{"x":{"datum":{"year":2024,"month":9,"date":28,"hours":13,"minutes":26,"utc":true},"type":"temporal"},"y":{"datum":0.0073043}}},
   {"mark":{"type":"text","text":"C","fontSize":24,"align":"left","baseline":"middle","color":"#131722"},"encoding":{"x":{"datum":{"year":2024,"month":9,"date":28,"hours":18,"minutes":53,"utc":true},"type":"temporal"},"y":{"datum":0.0073043}}},
   {"mark":{"type":"text","text":"0.005746","fontSize":24,"align":"left","baseline":"middle","color":"#F23645"},"encoding":{"x":{"datum":{"year":2024,"month":9,"date":28,"hours":19,"minutes":38,"utc":true},"type":"temporal"},"y":{"datum":0.0073043}}},
   {"mark":{"type":"text","text":"−0.000020 (−0.35%)","fontSize":24,"align":"left","baseline":"middle","color":"#F23645"},"encoding":{"x":{"datum":{"year":2024,"month":9,"date":29,"hours":0,"minutes":57,"utc":true},"type":"temporal"},"y":{"datum":0.0073043}}},
   {"mark":{"type":"text","text":"Vol · HMSTR","fontSize":24,"align":"left","baseline":"middle","color":"#131722"},"encoding":{"x":{"datum":{"year":2024,"month":9,"date":27,"hours":7,"minutes":51,"utc":true},"type":"temporal"},"y":{"datum":0.007205}}},
   {"mark":{"type":"text","text":"14.551M","fontSize":24,"align":"left","baseline":"middle","color":"#ef5350"},"encoding":{"x":{"datum":{"year":2024,"month":9,"date":27,"hours":14,"minutes":41,"utc":true},"type":"temporal"},"y":{"datum":0.007205}}},
   {"mark":{"type":"point","filled":true,"size":1521,"opacity":1,"color":"#131722","shape":"M-0.211 0.507H-0.606V-0.113H-1V-0.507H-0.211ZM0.577 0.507H0.127L0.549 -0.507H1ZM-0.098 -0.282A0.225 0.225 0 1 0 0.352 -0.282A0.225 0.225 0 1 0 -0.098 -0.282Z"},"encoding":{"x":{"datum":{"year":2024,"month":9,"date":27,"hours":7,"minutes":57,"utc":true},"type":"temporal"},"y":{"datum":0.0051098}}},
   {"mark":{"type":"text","text":"TradingView","fontSize":25,"fontWeight":500,"align":"left","baseline":"middle","color":"#131722"},"encoding":{"x":{"datum":{"year":2024,"month":9,"date":27,"hours":9,"minutes":11,"utc":true},"type":"temporal"},"y":{"datum":0.0051098}}}
  ]}
]}
],
"resolve":{"scale":{"y":"independent"}}
}
